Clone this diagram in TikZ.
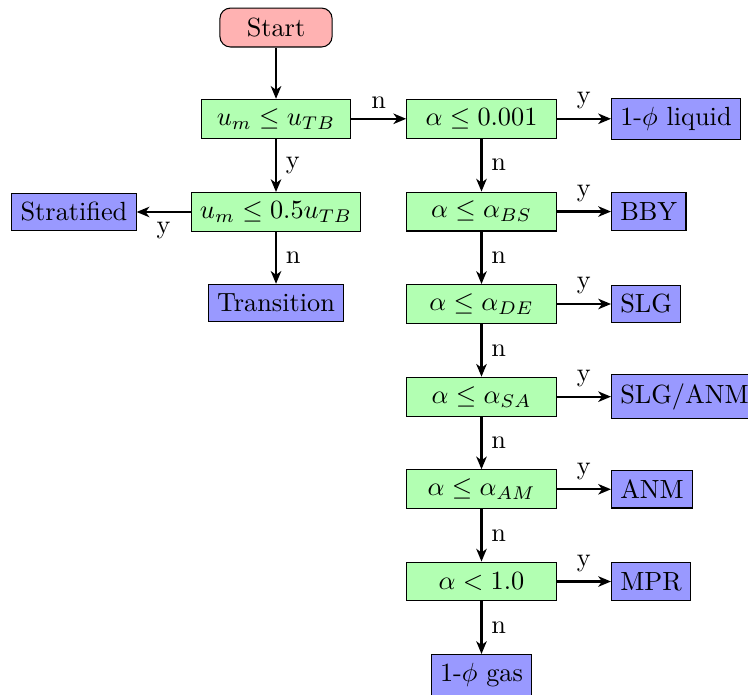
\documentclass[tikz,border=0pt]{standalone}
\usepackage{amsmath,amssymb}
\usepackage{xcolor}
\usetikzlibrary{arrows.meta}
\tikzset{
  startbox/.style={draw,rounded corners=4pt,fill=red!30,minimum width=1.5cm,minimum height=0.52cm},
  test/.style={draw,fill=green!30,minimum width=2cm,minimum height=0.52cm},
  regime/.style={draw,fill=blue!40,minimum height=0.5cm},
  flow/.style={thick,-{Stealth[length=1.7mm,width=1.4mm,inset=0.5mm]}}
}

\begin{document}
\begin{tikzpicture}
\useasboundingbox (0,0) rectangle (10,-9.278);
\node[startbox] (start) at (3.69,-0.368) {Start};
\node[test] (um) at (3.69,-1.588) {$u_m\leq u_{TB}$};
\node[test] (umh) at (3.69,-2.834) {$u_m\leq 0.5u_{TB}$};
\node[regime] (strat) at (0.989,-2.834) {Stratified};
\node[regime] (trans) at (3.69,-4.051) {Transition};
\node[test] (a0) at (6.437,-1.588) {$\alpha\leq 0.001$};
\node[test] (abs) at (6.437,-2.828) {$\alpha\leq\alpha_{BS}$};
\node[test] (ade) at (6.437,-4.064) {$\alpha\leq\alpha_{DE}$};
\node[test] (asa) at (6.437,-5.303) {$\alpha\leq\alpha_{SA}$};
\node[test] (aam) at (6.437,-6.541) {$\alpha\leq\alpha_{AM}$};
\node[test] (aone) at (6.437,-7.774) {$\alpha<1.0$};
\node[regime,anchor=north] (gas) at (6.437,-8.743) {1-$\phi$ gas};
\node[regime,anchor=west] (liq) at (8.168,-1.588) {1-$\phi$ liquid};
\node[regime,anchor=west] (bby) at (8.168,-2.828) {BBY};
\node[regime,anchor=west] (slg) at (8.168,-4.064) {SLG};
\node[regime,anchor=west] (sa) at (8.168,-5.303) {SLG/ANM};
\node[regime,anchor=west] (anm) at (8.168,-6.541) {ANM};
\node[regime,anchor=west] (mpr) at (8.168,-7.774) {MPR};
% left column
\draw[flow] (start) -- (um);
\draw[flow] (um) -- node[right] {y} (umh);
\draw[flow] (umh) -- node[below] {y} (strat);
\draw[flow] (umh) -- node[right] {n} (trans);
\draw[flow] (um) -- node[above] {n} (a0);
% right column
\draw[flow] (a0) -- node[right] {n} (abs); \draw[flow] (a0) -- node[above] {y} (liq);
\draw[flow] (abs) -- node[right] {n} (ade); \draw[flow] (abs) -- node[above] {y} (bby);
\draw[flow] (ade) -- node[right] {n} (asa); \draw[flow] (ade) -- node[above] {y} (slg);
\draw[flow] (asa) -- node[right] {n} (aam); \draw[flow] (asa) -- node[above] {y} (sa);
\draw[flow] (aam) -- node[right] {n} (aone); \draw[flow] (aam) -- node[above] {y} (anm);
\draw[flow] (aone) -- node[right] {n} (gas); \draw[flow] (aone) -- node[above] {y} (mpr);
\end{tikzpicture}
\end{document}
